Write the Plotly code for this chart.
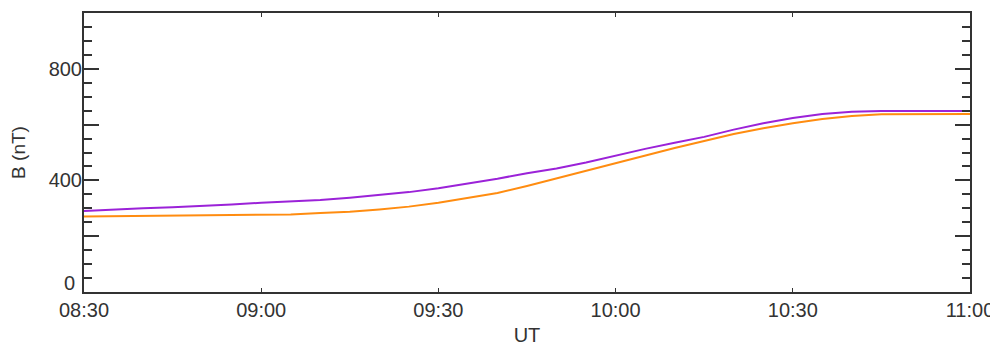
import plotly.graph_objects as go

# Time stamps (UT, 5-minute samples)
times = ["08:30", "08:35", "08:40", "08:45", "08:50", "08:55",
         "09:00", "09:05", "09:10", "09:15", "09:20", "09:25",
         "09:30", "09:35", "09:40", "09:45", "09:50", "09:55",
         "10:00", "10:05", "10:10", "10:15", "10:20", "10:25",
         "10:30", "10:35", "10:40", "10:45", "10:50", "10:55", "11:00"]

# B (nT), purple series
b_purple = [290, 296, 300, 304, 308, 314,
            320, 325, 330, 338, 348, 358,
            372, 388, 406, 426, 443, 464,
            489, 513, 535, 556, 582, 605,
            624, 638, 646, 649, 649, 649, 649]

# B (nT), orange series
b_orange = [271, 272, 273, 274, 275, 276,
            277, 278, 283, 288, 296, 306,
            320, 337, 355, 380, 407, 434,
            463, 490, 516, 541, 566, 587,
            605, 620, 631, 637, 638, 638, 638]

x_ticks = ["08:30", "09:00", "09:30", "10:00", "10:30", "11:00"]
y_tickvals = [0, 200, 400, 600, 800, 1000]
y_ticktext = ["", "", "400", "", "800", ""]
zero_label = "0"

date = "2000-01-01 "
x = [date + t for t in times]

fig = go.Figure()
fig.add_trace(go.Scatter(x=x, y=b_orange, mode="lines",
                         line=dict(color="#ff8c10", width=2), showlegend=False))
fig.add_trace(go.Scatter(x=x, y=b_purple, mode="lines",
                         line=dict(color="#9b22d8", width=2), showlegend=False))

tick_font = dict(family="Liberation Sans, Arial, sans-serif", size=20, color="#333333")

# page body has an 8px margin: size the figure so the plot area lands where the reference has it
fig.update_layout(
    width=990, height=343,
    margin=dict(l=76, r=28, t=5, b=59),
    paper_bgcolor="white", plot_bgcolor="white",
    font=dict(family="Liberation Sans, Arial, sans-serif", size=19, color="#333333"),
)
fig.add_annotation(x=0, xref="paper", y=0, yref="y", text=zero_label,
                   showarrow=False, xanchor="right", yanchor="middle",
                   xshift=-7, yshift=9, font=tick_font)
fig.update_xaxes(
    type="date",
    range=[date + "08:30", date + "11:00"],
    tickvals=[date + t for t in x_ticks],
    tickformat="%H:%M",
    tickfont=tick_font,
    ticks="inside", ticklen=4, tickcolor="#333333", tickwidth=1,
    showline=True, linecolor="#333333", linewidth=2, mirror="ticks",
    showgrid=False, zeroline=False, automargin=False,
    title=dict(text="UT", standoff=8, font=dict(size=20)),
    ticklabelstandoff=-1,
)
fig.update_yaxes(
    range=[0, 1000],
    tickvals=y_tickvals, ticktext=y_ticktext,
    tickfont=tick_font,
    ticks="inside", ticklen=15, tickcolor="#333333", tickwidth=2,
    minor=dict(dtick=50, tick0=0, ticks="inside", ticklen=8, tickcolor="#333333", tickwidth=2),
    showline=True, linecolor="#333333", linewidth=2, mirror="ticks",
    showgrid=False, zeroline=False, automargin=False,
    title=dict(text="B (nT)", standoff=21, font=dict(size=19)),
    ticklabelstandoff=-4,
)

fig.write_html("out.html")
